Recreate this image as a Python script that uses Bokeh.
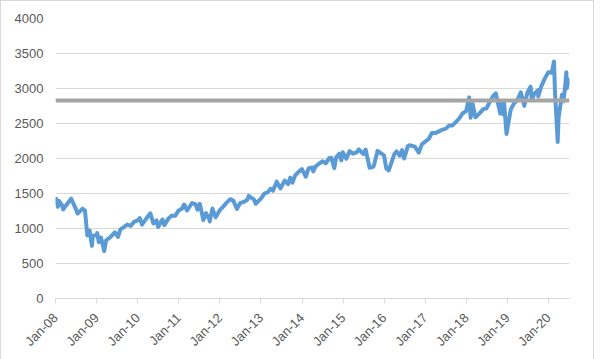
import pandas as pd
from datetime import datetime
from bokeh.plotting import figure
from bokeh.models import ColumnDataSource, FixedTicker, DatetimeTickFormatter, Range1d, Span
from bokeh.embed import file_html
from bokeh.resources import INLINE
import math

dates = [
    "2008-01-02", "2008-01-22", "2008-02-01", "2008-02-29", "2008-03-10", "2008-03-31", "2008-05-19",
    "2008-06-30", "2008-07-15", "2008-08-29", "2008-09-19", "2008-10-10", "2008-10-31", "2008-11-20",
    "2008-11-28", "2008-12-31", "2009-01-06", "2009-01-20", "2009-02-09", "2009-03-09", "2009-03-26",
    "2009-04-30", "2009-06-12", "2009-07-10", "2009-07-31", "2009-08-31", "2009-09-30", "2009-10-30",
    "2009-11-30", "2009-12-31", "2010-01-19", "2010-02-08", "2010-03-31", "2010-04-23", "2010-05-20",
    "2010-06-18", "2010-07-02", "2010-08-09", "2010-08-26", "2010-09-30", "2010-10-29", "2010-11-30",
    "2010-12-31", "2011-01-31", "2011-02-18", "2011-03-16", "2011-04-29", "2011-05-31", "2011-06-16",
    "2011-07-07", "2011-08-08", "2011-08-31", "2011-09-30", "2011-10-03", "2011-10-27", "2011-11-25",
    "2011-12-30", "2012-01-31", "2012-02-29", "2012-04-02", "2012-04-30", "2012-06-01", "2012-06-29",
    "2012-07-31", "2012-08-31", "2012-09-14", "2012-10-31", "2012-11-15", "2012-12-31", "2013-01-31",
    "2013-02-28", "2013-03-28", "2013-04-18", "2013-05-21", "2013-06-24", "2013-07-31", "2013-08-30",
    "2013-09-18", "2013-10-08", "2013-10-31", "2013-11-29", "2013-12-31", "2014-02-03", "2014-02-28",
    "2014-03-31", "2014-04-11", "2014-04-30", "2014-05-30", "2014-06-30", "2014-07-31", "2014-08-29",
    "2014-09-18", "2014-10-15", "2014-10-31", "2014-11-28", "2014-12-16", "2014-12-29", "2015-01-30",
    "2015-02-27", "2015-03-31", "2015-04-30", "2015-05-21", "2015-06-30", "2015-07-20", "2015-08-25",
    "2015-09-29", "2015-10-30", "2015-11-03", "2015-12-31", "2016-01-20", "2016-02-11", "2016-03-31",
    "2016-04-20", "2016-05-19", "2016-06-08", "2016-06-27", "2016-07-29", "2016-08-15", "2016-09-30",
    "2016-11-04", "2016-11-30", "2016-12-30", "2017-01-31", "2017-02-28", "2017-03-31", "2017-04-28",
    "2017-05-31", "2017-06-30", "2017-07-31", "2017-08-31", "2017-09-29", "2017-10-31", "2017-11-30",
    "2017-12-29", "2018-01-26", "2018-02-08", "2018-02-26", "2018-03-23", "2018-04-30", "2018-05-31",
    "2018-06-29", "2018-07-31", "2018-08-31", "2018-09-20", "2018-10-29", "2018-11-07", "2018-11-23",
    "2018-12-03", "2018-12-24", "2019-01-31", "2019-02-28", "2019-03-29", "2019-04-30", "2019-05-31",
    "2019-06-28", "2019-07-26", "2019-08-05", "2019-08-30", "2019-09-30", "2019-10-02", "2019-10-31",
    "2019-11-29", "2019-12-31", "2020-01-31", "2020-02-19", "2020-02-28", "2020-03-23", "2020-03-31",
    "2020-04-30", "2020-05-14", "2020-05-29", "2020-06-08", "2020-06-11", "2020-06-30", "2020-07-06",
]
index_values = [
    1447, 1310, 1395, 1330, 1273, 1322, 1426,
    1280, 1214, 1283, 1255, 899, 969, 752,
    896, 903, 935, 805, 870, 677, 832,
    873, 946, 879, 987, 1021, 1057, 1036,
    1096, 1115, 1150, 1056, 1169, 1217, 1071,
    1117, 1022, 1128, 1047, 1141, 1183, 1181,
    1258, 1286, 1343, 1257, 1364, 1345, 1268,
    1353, 1119, 1219, 1131, 1099, 1285, 1159,
    1258, 1312, 1366, 1419, 1398, 1278, 1362,
    1379, 1407, 1466, 1412, 1353, 1426, 1498,
    1515, 1569, 1541, 1669, 1573, 1686, 1633,
    1725, 1655, 1757, 1806, 1848, 1741, 1859,
    1872, 1815, 1884, 1924, 1960, 1931, 2003,
    2011, 1862, 2018, 2068, 1973, 2090, 1995,
    2105, 2068, 2086, 2131, 2063, 2128, 1868,
    1884, 2079, 2109, 2044, 1859, 1829, 2060,
    2102, 2040, 2119, 2001, 2174, 2190, 2168,
    2085, 2199, 2239, 2279, 2364, 2363, 2384,
    2412, 2423, 2470, 2472, 2519, 2575, 2648,
    2674, 2873, 2581, 2780, 2588, 2648, 2705,
    2718, 2816, 2902, 2931, 2641, 2814, 2633,
    2790, 2351, 2704, 2784, 2834, 2946, 2752,
    2942, 3026, 2844, 2926, 2977, 2887, 3038,
    3141, 3231, 3226, 3386, 2954, 2237, 2585,
    2912, 2820, 3044, 3232, 3002, 3100, 3150,
]
reference_level = 2830
tick_years = list(range(2008, 2021))
y_ticks = [0, 500, 1000, 1500, 2000, 2500, 3000, 3500, 4000]

src = ColumnDataSource(dict(x=pd.to_datetime(dates), y=index_values))

p = figure(width=594, height=359, x_axis_type="datetime",
           output_backend="svg", toolbar_location=None,
           min_border_left=54, min_border_right=26, min_border_top=17, min_border_bottom=62,
           styles={"border-left": "1px solid #d9d9d9", "border-top": "1px solid #d9d9d9",
                   "border-right": "1px solid #d9d9d9"})
p.x_range = Range1d(datetime(2008, 1, 1), datetime(2020, 7, 6))
p.y_range = Range1d(0, 4000)
p.outline_line_color = None

p.line("x", "y", source=src, line_color="#5b9bd5", line_width=4, line_join="round")
p.add_layout(Span(location=reference_level, dimension="width", line_color="#a5a5a5", line_width=4))

p.xaxis.ticker = FixedTicker(ticks=[datetime(y, 1, 1).timestamp() * 1000 for y in tick_years])
p.xaxis.formatter = DatetimeTickFormatter(years="%b-%y", months="%b-%y", days="%b-%y")
p.xaxis.major_label_orientation = math.pi / 4
p.xaxis.axis_line_color = "#d9d9d9"
p.xaxis.major_tick_line_color = "#d9d9d9"
p.xaxis.major_tick_out = 5
p.xaxis.major_tick_in = 0
p.xaxis.minor_tick_line_color = None
p.xaxis.major_label_standoff = 12

p.yaxis.ticker = FixedTicker(ticks=y_ticks)
p.yaxis.axis_line_color = None
p.yaxis.major_tick_line_color = None
p.yaxis.minor_tick_line_color = None
p.yaxis.major_label_standoff = 6

for ax in (p.xaxis, p.yaxis):
    ax.major_label_text_font = "Liberation Sans"
    ax.major_label_text_font_size = "13px"
    ax.major_label_text_color = "#595959"

p.xgrid.grid_line_color = None
p.ygrid.ticker = FixedTicker(ticks=y_ticks)
p.ygrid.grid_line_color = "#d9d9d9"

open("out.html", "w").write(file_html(p, INLINE))
